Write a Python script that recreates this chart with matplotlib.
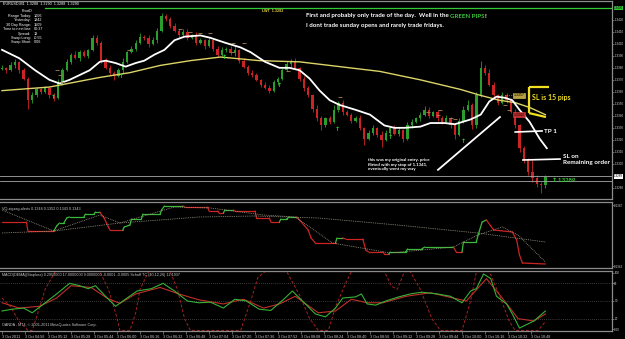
import numpy as np
import matplotlib
matplotlib.use("Agg")
import matplotlib.pyplot as plt
import matplotlib.transforms as mtransforms

# EURUSD M1, 3 Oct 2011 - candles sampled every 3 minutes from 04:40
# prices kept as pips above 1.3300
first_open = 79
close_pips = [80, 78, 82, 85, 78, 71, 53, 57, 62, 60,
              63, 57, 55, 68, 78, 85, 91, 88, 93, 90,
              95, 105, 101, 86, 80, 76, 73, 78, 85, 93,
              96, 101, 106, 105, 100, 103, 111, 123, 121, 115,
              111, 107, 110, 105, 107, 101, 103, 98, 103, 96,
              91, 95, 96, 92, 95, 86, 81, 76, 74, 70,
              66, 63, 61, 68, 71, 78, 83, 86, 80, 71,
              63, 57, 46, 38, 32, 38, 35, 45, 51, 43,
              41, 36, 38, 30, 21, 26, 30, 24, 20, 26,
              30, 25, 28, 21, 32, 35, 38, 41, 45, 40,
              43, 38, 35, 38, 32, 24, 36, 45, 49, 32,
              57, 80, 76, 66, 57, 51, 57, 53, 43, 32,
              13, 3, -7, -12, -17, -18, -11]
wick_up = [2, 1, 3, 2, 1, 2, 1, 3, 2, 1,
           2, 1, 2, 3, 2, 2, 1, 3, 2, 2,
           1, 2, 2, 1, 2, 2, 1, 2, 3, 1,
           2, 2, 3, 1, 2, 3, 2, 3, 2, 1,
           2, 1, 2, 2, 1, 3, 2, 1, 2, 1,
           2, 2, 1, 2, 3, 1, 2, 1, 2, 2,
           1, 2, 3, 2, 1, 2, 3, 1, 2, 1,
           2, 2, 1, 3, 2, 1, 2, 4, 1, 2,
           2, 1, 2, 3, 1, 2, 2, 1, 3, 2,
           1, 2, 2, 1, 3, 2, 1, 2, 3, 2,
           1, 2, 2, 3, 1, 2, 2, 3, 4, 2,
           3, 6, 2, 3, 2, 1, 3, 2, 2, 3,
           1, 2, 2, 10, 3, 2, 2]
wick_dn = [1, 2, 1, 2, 2, 1, 7, 2, 1, 2,
           1, 2, 3, 1, 2, 1, 2, 1, 2, 1,
           2, 1, 2, 2, 1, 2, 3, 1, 2, 1,
           1, 2, 1, 2, 3, 1, 2, 1, 2, 2,
           1, 2, 1, 2, 1, 2, 1, 2, 1, 2,
           2, 1, 2, 1, 2, 2, 1, 2, 2, 1,
           2, 1, 2, 1, 2, 1, 1, 2, 1, 2,
           2, 1, 3, 2, 4, 1, 2, 1, 2, 2,
           1, 2, 1, 2, 5, 1, 2, 2, 6, 1,
           2, 1, 2, 3, 1, 2, 1, 2, 1, 2,
           1, 2, 2, 1, 2, 3, 1, 2, 1, 3,
           2, 1, 2, 1, 2, 2, 1, 2, 1, 2,
           3, 2, 2, 3, 2, 6, 2]

# moving averages (minutes since 04:40, pips)
white_t = [0, 12, 23, 33, 40, 47, 54, 61, 68, 72, 79, 86, 93, 99, 106, 113, 120, 127, 138, 145,
           155, 166, 173, 183, 193, 200, 207, 214, 221, 228, 235, 246, 256, 266, 273, 280, 291, 298, 308, 315,
           326, 333, 339, 344, 350, 355, 360, 367, 374, 379]
white_ma = [95, 88, 78, 70, 67, 70, 74, 78, 85, 86, 84, 81, 84, 86, 91, 95, 103, 106, 107, 105,
            101, 97, 93, 85, 80, 80, 78, 71, 61, 53, 49, 45, 41, 32, 30, 30, 31, 34, 34, 33,
            37, 41, 52, 56, 55, 53, 45, 35, 21, 13]
yellow_t = [0, 33, 68, 89, 110, 131, 152, 179, 207, 235, 263, 291, 319, 333, 346, 357, 367, 378]
yellow_ma = [61, 64, 72, 76, 82, 86, 89, 86, 85, 81, 77, 70, 62, 57, 53, 51, 47, 41]

arrow_t = [36, 83, 155, 193, 233, 270, 321]
arrow_p = [55, 73, 89, 65, 29, 22, 19]
dash_t = [38, 40, 42, 88, 124, 131, 138, 145, 161, 168, 160, 199, 235, 296, 303, 305, 312, 315, 350, 353]
dash_p = [78, 74, 68, 95, 112, 110, 109, 109, 101, 101, 93, 77, 56, 43, 41, 45, 38, 37, 49, 45]

# VQ zigzag panel
zz_t = [0, 17, 18, 36, 38, 40, 43, 45, 47, 57, 58, 64, 65, 68, 71, 74, 75, 84, 85, 89,
        90, 97, 98, 110, 111, 113, 126, 127, 143, 144, 150, 151, 154, 155, 161, 162, 176, 177, 186, 187,
        193, 194, 198, 200, 205, 207, 213, 215, 218, 232, 233, 237, 239, 251, 253, 255, 265, 266, 269, 270,
        281, 282, 292, 294, 314, 316, 320, 321, 330, 331, 334, 337, 340, 342, 355, 358, 360, 362, 378]
zz_v = [46, 46, 37, 37, 42, 45, 45, 50, 51, 51, 54, 54, 56, 56, 50, 41, 38, 38, 41, 43,
        49, 49, 54, 54, 58, 62, 62, 61, 61, 57, 57, 55, 55, 58, 58, 57, 57, 50, 50, 46,
        46, 49, 49, 51, 51, 48, 38, 30, 25, 25, 30, 30, 29, 29, 18, 16, 16, 14, 14, 16,
        16, 19, 19, 21, 21, 16, 16, 26, 26, 32, 46, 48, 42, 38, 36, 28, 13, 5, 4]
zz_c = "rrrggggggggggrrrrgggggggggrrrrrrggrrrrrrggggrrrrrggrrrrrrrggggggrrgggggrrrrrrr"
fast_t = [0, 36, 68, 82, 120, 145, 182, 204, 230, 270, 314, 331, 348, 359, 378]
fast_v = [58, 37, 53, 45, 61, 60, 53, 51, 25, 15, 21, 33, 41, 33, 6]
slow_t = [0, 36, 82, 137, 176, 220, 275, 331, 378]
slow_v = [35, 37, 45, 51, 52, 50, 43, 35, 26]

# MACD / Schaff trend cycle panel
macd_t = [0, 7, 15, 21, 29, 38, 47, 54, 60, 65, 72, 79, 87, 94, 104, 112, 120, 129, 137, 145,
          154, 162, 170, 179, 187, 196, 202, 209, 218, 225, 232, 237, 246, 250, 254, 260, 267, 276, 284, 292,
          303, 312, 320, 326, 330, 335, 340, 344, 351, 355, 360, 365, 370, 378]
macd_v = [33, 36, 38, 30, 45, 62, 80, 76, 71, 76, 58, 41, 55, 67, 71, 80, 67, 50, 47, 48,
          38, 53, 50, 36, 34, 53, 67, 50, 28, 23, 38, 55, 57, 62, 45, 43, 50, 57, 62, 65,
          62, 58, 47, 67, 71, 96, 88, 58, 45, 28, 4, 10, 16, 33]
sig_t = [0, 12, 26, 38, 48, 62, 73, 82, 93, 110, 123, 137, 154, 168, 182, 193, 204, 220, 232, 243,
         254, 265, 281, 298, 314, 323, 337, 348, 359, 370, 378]
sig_v = [47, 38, 41, 55, 76, 73, 55, 46, 62, 73, 62, 52, 45, 53, 38, 45, 58, 30, 33, 53,
         47, 47, 58, 64, 55, 50, 88, 55, 20, 16, 28]
stc_t = [0, 6, 12, 18, 21, 25, 30, 37, 68, 74, 79, 82, 89, 93, 96, 102, 117, 122, 127, 131,
         166, 173, 178, 183, 198, 207, 214, 220, 227, 232, 239, 243, 266, 271, 275, 280, 284, 291, 299, 305,
         320, 326, 330, 339, 346, 353, 357, 373, 378]
stc_v = [55, 40, 15, 0, 0, 30, 70, 100, 100, 70, 30, 0, 0, 30, 70, 100, 100, 70, 20, 0,
         0, 50, 90, 100, 100, 60, 20, 0, 0, 40, 80, 100, 100, 75, 70, 100, 100, 70, 20, 0,
         0, 50, 100, 100, 60, 15, 0, 0, 15]

time_labels = ["3 Oct 2011", "3 Oct 04:56", "3 Oct 05:12", "3 Oct 05:28", "3 Oct 05:44", "3 Oct 06:00",
               "3 Oct 06:16", "3 Oct 06:32", "3 Oct 06:48", "3 Oct 07:04", "3 Oct 07:20", "3 Oct 07:36",
               "3 Oct 07:52", "3 Oct 08:08", "3 Oct 08:24", "3 Oct 08:40", "3 Oct 08:56", "3 Oct 09:12",
               "3 Oct 09:28", "3 Oct 09:44", "3 Oct 10:00", "3 Oct 10:16", "3 Oct 10:32", "3 Oct 10:48"]

pivot_rows = [("Range Today:", "1006"), ("Yesterday:", "1842"), ("30 Day Range:", "1509"),
              ("Time to next bar:", "00:37"), ("Spread:", "13"), ("Swap Long:", "-0.55"),
              ("Swap Short:", "0.06")]

BULL = "#2a9e2a"
BEAR = "#cc2424"
AX_TXT = "#cfcfcf"
SMALL = dict(family="Liberation Sans", fontsize=2.7)
AXF = dict(family="Liberation Sans", fontsize=2.2)
ANN = dict(family="Lato", fontweight="bold")

W, H = 625.0, 339.0
RIGHT = 612.0
fig = plt.figure(figsize=(6.25, 3.39), dpi=100, facecolor="black")


def panel(top, bottom):
    a = fig.add_axes([0, 1 - bottom / H, RIGHT / W, (bottom - top) / H])
    a.set_facecolor("black")
    for s in a.spines.values():
        s.set_color("#8c8c8c")
        s.set_linewidth(0.9)
    a.spines["left"].set_visible(False)
    a.set_xlim(-1.4, (RIGHT - 2) / 1.4375)
    a.yaxis.tick_right()
    a.tick_params(axis="y", colors="#8c8c8c", labelcolor=AX_TXT, length=1.2, width=0.5, pad=0.5)
    a.tick_params(axis="x", bottom=False, labelbottom=False)
    return a


def pfmt(p):
    return "%.4f" % (1.33 + p / 10000.0)


ax = panel(1, 199)
ax_zz = panel(202, 268)
ax_m = panel(271, 331)

# ---- main price chart
closes = np.array(close_pips, float)
opens = np.concatenate([[first_open], closes[:-1]])
highs = np.maximum(opens, closes) + np.array(wick_up)
lows = np.minimum(opens, closes) - np.array(wick_dn)
tc = np.arange(len(closes)) * 3
cols = np.where(closes >= opens, BULL, BEAR)
ax.vlines(tc, lows, highs, colors=cols, lw=0.6)
ax.bar(tc, np.maximum(np.abs(closes - opens), 0.6), bottom=np.minimum(opens, closes),
       width=1.6, color=cols, linewidth=0)

ax.plot(yellow_t, yellow_ma, color="#dcd468", lw=1.0)
ax.plot(white_t, white_ma, color="white", lw=1.3)
ax.plot(dash_t, dash_p, ls="none", marker="_", ms=3, mew=0.6, color="#a8864c")
for at, ap in zip(arrow_t, arrow_p):
    ax.text(at, ap, "\u2191", color="#30d030", fontsize=4.5, fontweight="bold",
            ha="center", va="center", family="DejaVu Sans")

ax.set_ylim(-29.3, 135.7)
yt = [-20] + list(range(0, 121, 10))
ax.set_yticks(yt)
ax.set_yticklabels([pfmt(p) for p in yt], **AXF)

# day high line and bid/ask lines
ax.plot([30, 430], [130, 130], color="#35c835", lw=0.9)
ax.axhline(-10, color="#a8a8a8", lw=0.6)
ax.axhline(-14, color="#a8a8a8", lw=0.6)
tr = mtransforms.blended_transform_factory(ax.transAxes, ax.transData)
ax.text(1.003, 130, pfmt(130), transform=tr, color="black", va="center", ha="left",
        bbox=dict(boxstyle="square,pad=0.1", fc="#35c835", ec="none"), **AXF)
ax.text(1.003, -10.5, pfmt(-11), transform=tr, color="black", va="center", ha="left",
        bbox=dict(boxstyle="square,pad=0.1", fc="white", ec="none"), **AXF)

# trade levels
ax.plot([350, 356], [57, 57], color="#c8b040", lw=0.5, ls=":")
ax.text(356, 57, "1.3357", color="black", fontsize=2.6, va="center", ha="left", family="Liberation Sans",
        bbox=dict(boxstyle="square,pad=0.15", fc="#b8a040", ec="#e0d060", lw=0.4))
ax.text(356, 41, "1.3341", color="black", fontsize=2.6, va="center", ha="left", family="Liberation Sans",
        bbox=dict(boxstyle="square,pad=0.15", fc="#c03030", ec="#e04040", lw=0.4))

# annotations
ax.plot([366.6, 380.5], [64, 64], color="#f0e020", lw=1.6, solid_capstyle="butt")
ax.plot([366.6, 366.6], [64, 42.3], color="#f0e020", lw=1.6, solid_capstyle="butt")
ax.plot([366.6, 378.4], [42.3, 39], color="#f0e020", lw=1.6, solid_capstyle="butt")
ax.text(368.7, 55, "SL is 15 pips", color="#f0e020", fontsize=5, va="center", ha="left", **ANN)

ax.plot([303.3, 346.4], [-5, 39], color="white", lw=1.3)
ax.text(254.6, 5, "this was my original entry. price\nflirted with my stop of 1.1341,\neventually went my way",
        color="white", fontsize=3.2, va="top", ha="left", linespacing=1.25, **ANN)
ax.plot([357, 375.7], [26.5, 27.4], color="white", lw=1.2)
ax.text(377, 27, "TP 1", color="white", fontsize=4.6, va="center", ha="left", **ANN)
ax.plot([362.4, 388.2], [3.2, 4.0], color="white", lw=1.2)
ax.text(390.3, 3.5, "SL on\nRemaining order", color="white", fontsize=4.6, va="center", ha="left",
        linespacing=1.3, **ANN)
ax.text(384, -14.3, "\u2191", color="#30d030", fontsize=4.5, va="center", ha="center",
        family="DejaVu Sans", fontweight="bold")
ax.text(386.5, -14.3, "1.3289", color="#30d030", fontsize=4.2, va="center", ha="left", **ANN)

# ---- zigzag panel
for k in range(len(zz_t) - 1):
    ax_zz.plot(zz_t[k:k + 2], zz_v[k:k + 2], color=BEAR if zz_c[k] == "r" else "#3cb83c",
               lw=0.9, solid_capstyle="round")
ax_zz.plot(fast_t, fast_v, color="#a09a86", lw=0.6, ls=(0, (1, 1.2)))
ax_zz.plot(slow_t, slow_v, color="#a09a86", lw=0.6, ls=(0, (1, 1.2)))
ax_zz.set_ylim(0, 66)
ax_zz.set_yticks([63, 2])
ax_zz.set_yticklabels(["0.1347", "0.1342"], **AXF)
ax_zz.text(0.004, 0.93, "VQ-zigzag-alerts 0.1344 0.1352 0.1343 0.1343", transform=ax_zz.transAxes,
           color="#c8c8c8", va="top", ha="left", **SMALL)

# ---- MACD / STC panel
for lv in (20, 50, 80):
    ax_m.axhline(lv, color="#707070", lw=0.5, ls=(0, (1, 2)))
ax_m.plot(stc_t, stc_v, color="#a82020", lw=0.7, ls=(0, (3, 2)))
ax_m.plot(sig_t, sig_v, color="#c03028", lw=0.8)
ax_m.plot(macd_t, macd_v, color="#38b038", lw=0.8)
ax_m.set_ylim(-1, 101)
ax_m.set_yticks([98, 80, 50, 20, 2])
ax_m.set_yticklabels(["100", "80", "50", "20", "0.00"], **AXF)
ax_m.text(0.004, 0.97, "MACD(DEMA)(Stoploss) 0.2950000 17.0000000 9.0000000 -0.0001 -0.0005 "
          "Schaff TC (40,12,26) 12.1937", transform=ax_m.transAxes, color="#c8c8c8",
          va="top", ha="left", **SMALL)
ax_m.text(0.004, 0.06, "OANDA - MT4, \u00a9 2001-2011 MetaQuotes Software Corp.", transform=ax_m.transAxes,
          color="#c8c8c8", va="bottom", ha="left", **SMALL)

xt = list(range(0, 369, 16))
ax_m.set_xticks(xt)
ax_m.set_xticklabels(time_labels, **SMALL)
ax_m.tick_params(axis="x", bottom=True, labelbottom=True, colors="#8c8c8c", labelcolor=AX_TXT,
                 length=2, width=0.5, pad=1)
for lab in ax_m.get_xticklabels():
    lab.set_ha("left")

# ---- header texts
fig.text(3 / W, 1 - 4 / H, "EURUSD,M1  1.3288  1.3290  1.3288  1.3290", color="white", va="center", **SMALL)
fig.text(27 / W, 1 - 11 / H, "PivotD", color="white", va="center", ha="center", **SMALL)
for k, (lab, val) in enumerate(pivot_rows):
    y = 1 - (16 + 4.4 * k) / H
    fig.text(31 / W, y, lab, color="white", va="center", ha="right", **SMALL)
    fig.text(34 / W, y, val, color="white", va="center", ha="left", **SMALL)
fig.text(262 / W, 1 - 11.5 / H, "LWT  1.3282", color="#e0d040", va="center", fontweight="bold", **SMALL)

renderer = fig.canvas.get_renderer()
x = 306 / W
for s, c in [("First and probably only trade of the day.  Well in the ", "white"),
             ("GREEN PIPS", "#3cc83c"), ("!", "white")]:
    tx = fig.text(x, 1 - 16 / H, s, color=c, fontsize=4.4, va="center", ha="left", **ANN)
    x += tx.get_window_extent(renderer=renderer).width / fig.bbox.width
fig.text(306 / W, 1 - 25 / H, "I dont trade sunday opens and rarely trade fridays.", color="white",
         fontsize=4.4, va="center", ha="left", **ANN)

fig.savefig("out.png", dpi=100, facecolor="black")
